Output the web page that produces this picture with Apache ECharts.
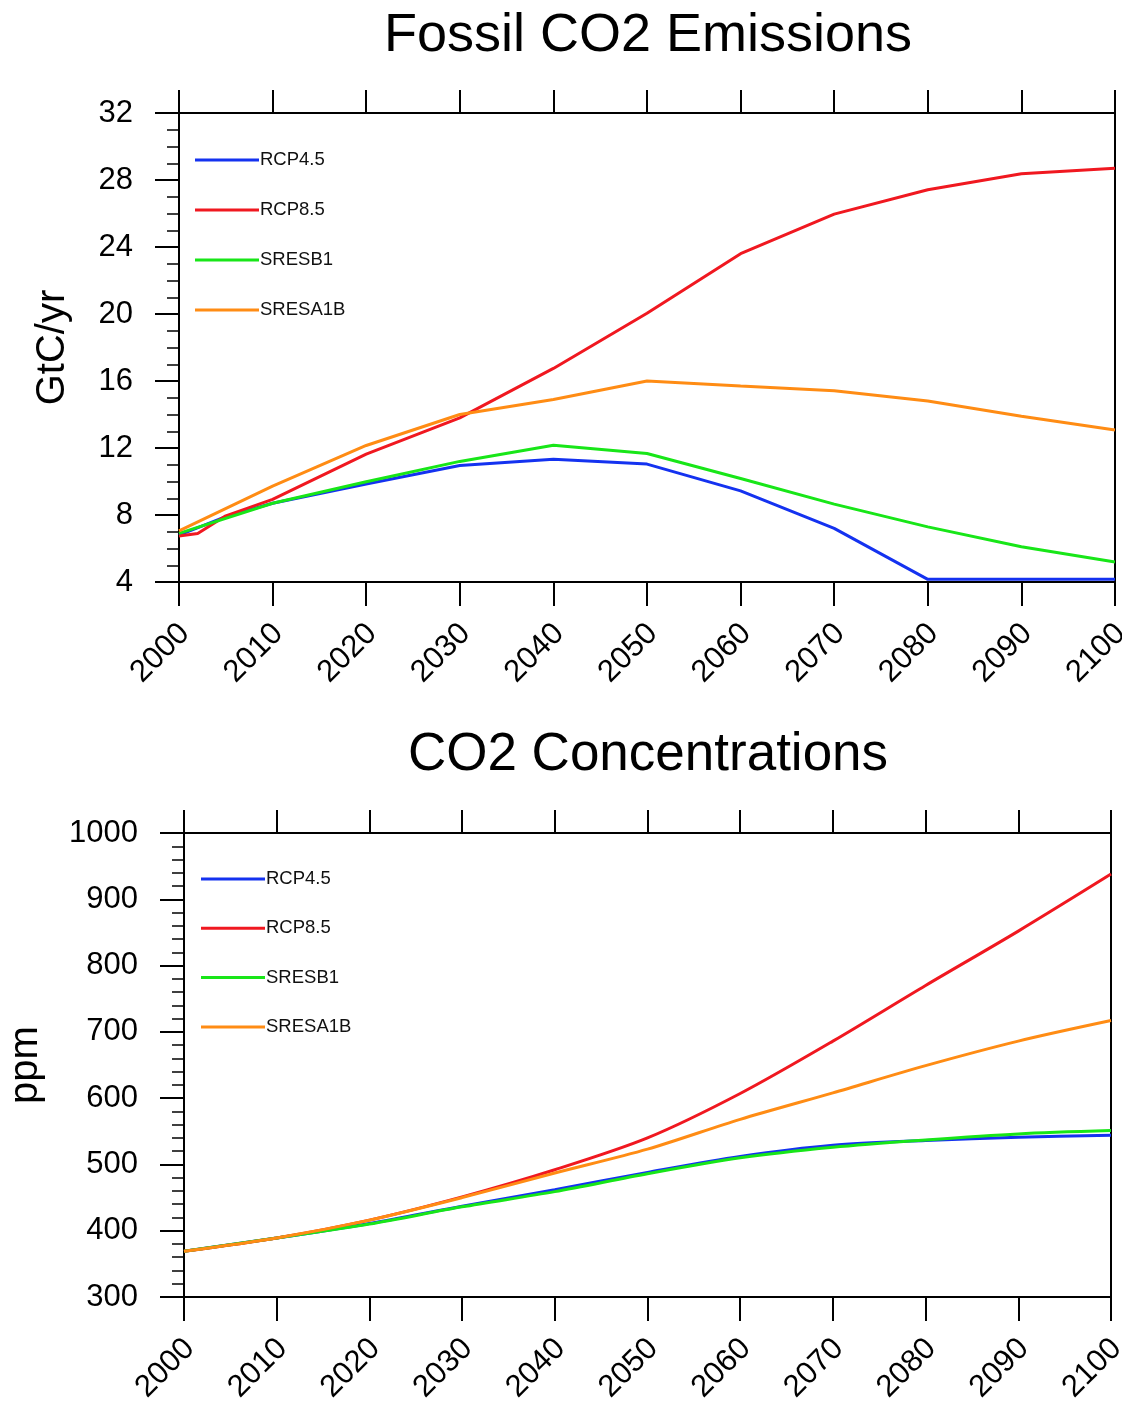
<!DOCTYPE html>
<html>
<head>
<meta charset="utf-8">
<title>CO2 Emissions and Concentrations</title>
<script src="https://cdn.jsdelivr.net/npm/echarts@6/dist/echarts.min.js"></script>
<style>
  html, body { margin: 0; padding: 0; background: #ffffff; overflow: hidden; }
  #chart { width: 1122px; height: 1403px; }
</style>
</head>
<body>
<div id="chart"></div>
<script>
// ---- Fossil CO2 emissions (GtC/yr) ----
const rcp45EmisYears = [2000, 2005, 2010, 2020, 2030, 2040, 2050, 2060, 2070, 2080, 2090, 2100];
const rcp45Emis      = [6.8, 7.9, 8.7, 9.85, 10.95, 11.33, 11.04, 9.44, 7.2, 4.16, 4.16, 4.16];

const rcp85EmisYears = [2000, 2002, 2005, 2010, 2020, 2030, 2040, 2050, 2060, 2070, 2080, 2090, 2100];
const rcp85Emis      = [6.75, 6.9, 7.95, 8.93, 11.63, 13.8, 16.75, 20.04, 23.6, 25.96, 27.42, 28.37, 28.7];

const sresEmisYears  = [2000, 2010, 2020, 2030, 2040, 2050, 2060, 2070, 2080, 2090, 2100];
const sresb1Emis     = [6.9, 8.7, 9.98, 11.2, 12.17, 11.67, 10.18, 8.65, 7.29, 6.1, 5.2];
const sresa1bEmis    = [7.05, 9.73, 12.15, 14.0, 14.9, 16.0, 15.7, 15.42, 14.8, 13.9, 13.07];

// ---- CO2 concentrations (ppm) ----
const concYears      = [2000, 2010, 2020, 2030, 2040, 2050, 2060, 2070, 2080, 2090, 2100];
const rcp45Conc      = [369, 389, 411, 437, 462, 488, 512, 529, 536, 541, 544];
const rcp85Conc      = [369, 389, 416, 451, 492, 540, 607, 686, 770, 852, 938];
const sresb1Conc     = [369, 389, 410, 436, 459, 486, 510, 526, 537, 546, 551];
const sresa1bConc    = [369, 389, 416, 450, 487, 523, 568, 608, 649, 686, 717];

const scenarioNames  = ['RCP4.5', 'RCP8.5', 'SRESB1', 'SRESA1B'];
const scenarioColors = ['#1432f0', '#f01820', '#18e618', '#ff8c14'];

const FONT = '"Liberation Sans", Arial, Helvetica, sans-serif';

function pairs(xs, ys) { return xs.map((x, i) => [x, ys[i]]); }

function xAxes(gridIndex) {
  return [
    {
      type: 'value', gridIndex, position: 'bottom',
      min: 2000, max: 2100, interval: 10,
      axisLine: { show: true, lineStyle: { color: '#000', width: 2 } },
      axisTick: { show: true, inside: false, length: 24, lineStyle: { color: '#000', width: 2 } },
      axisLabel: { rotate: 45, margin: 41, fontSize: 31, lineHeight: 16, verticalAlign: 'top',
                   color: '#000', fontFamily: FONT, hideOverlap: false, formatter: v => String(v) },
      splitLine: { show: false }
    },
    {
      type: 'value', gridIndex, position: 'top',
      min: 2000, max: 2100, interval: 10,
      axisLine: { show: true, lineStyle: { color: '#000', width: 2 } },
      axisTick: { show: true, inside: false, length: 23, lineStyle: { color: '#000', width: 2 } },
      axisLabel: { show: false },
      splitLine: { show: false }
    }
  ];
}

function yAxis(gridIndex, min, max, interval, minorSplit, name, nameGap) {
  return {
    type: 'value', gridIndex, position: 'left',
    min, max, interval,
    name, nameLocation: 'middle', nameGap,
    nameTextStyle: { fontSize: 40, color: '#000', fontFamily: FONT },
    axisLine: { show: true, lineStyle: { color: '#000', width: 2 } },
    axisTick: { show: true, inside: false, length: 24, lineStyle: { color: '#000', width: 2 } },
    minorTick: { show: true, splitNumber: minorSplit, length: 12, lineStyle: { color: '#000', width: 1.5 } },
    axisLabel: { margin: 46, fontSize: 31, color: '#000', fontFamily: FONT, formatter: v => String(v) },
    splitLine: { show: false },
    minorSplitLine: { show: false }
  };
}

function legend(top, left, gap) {
  return {
    orient: 'vertical', left, top, padding: 0,
    icon: 'rect', itemWidth: 64, itemHeight: 3, itemGap: gap,
    data: scenarioNames,
    textStyle: { fontSize: 18.5, lineHeight: 20, color: '#111', fontFamily: FONT, padding: [0, 0, 0, -4] },
    selectedMode: false
  };
}

const emisData = [
  pairs(rcp45EmisYears, rcp45Emis),
  pairs(rcp85EmisYears, rcp85Emis),
  pairs(sresEmisYears, sresb1Emis),
  pairs(sresEmisYears, sresa1bEmis)
];
const concData = [
  pairs(concYears, rcp45Conc),
  pairs(concYears, rcp85Conc),
  pairs(concYears, sresb1Conc),
  pairs(concYears, sresa1bConc)
];

const series = [];
emisData.forEach((d, i) => series.push({
  name: scenarioNames[i], type: 'line', xAxisIndex: 0, yAxisIndex: 0,
  data: d, showSymbol: false, symbol: 'none',
  lineStyle: { color: scenarioColors[i], width: 3 }, itemStyle: { color: scenarioColors[i] },
  z: 3 + i
}));
concData.forEach((d, i) => series.push({
  name: scenarioNames[i], type: 'line', xAxisIndex: 2, yAxisIndex: 1,
  data: d, showSymbol: false, symbol: 'none',
  smooth: 0.3,
  lineStyle: { color: scenarioColors[i], width: 3 }, itemStyle: { color: scenarioColors[i] },
  z: 3 + i
}));

const chart = echarts.init(document.getElementById('chart'), null, { renderer: 'canvas' });
chart.setOption({
  backgroundColor: '#ffffff',
  animation: false,
  color: scenarioColors,
  title: [
    { text: 'Fossil CO2 Emissions', left: 643, top: 4, textAlign: 'center',
      textStyle: { fontSize: 54, fontWeight: 'normal', color: '#000', fontFamily: FONT } },
    { text: 'CO2 Concentrations', left: 643, top: 724, textAlign: 'center',
      textStyle: { fontSize: 53, fontWeight: 'normal', color: '#000', fontFamily: FONT } }
  ],
  legend: [legend(150, 195, 30), legend(869, 201, 29.3)],
  grid: [
    { left: 179, top: 113, width: 936, height: 469, containLabel: false, outerBoundsMode: 'none',
      show: true, borderColor: '#000', borderWidth: 2, backgroundColor: 'transparent' },
    { left: 184, top: 833, width: 927, height: 464, containLabel: false, outerBoundsMode: 'none',
      show: true, borderColor: '#000', borderWidth: 2, backgroundColor: 'transparent' }
  ],
  xAxis: [...xAxes(0), ...xAxes(1)],
  yAxis: [
    yAxis(0, 4, 32, 4, 4, 'GtC/yr', 106),
    yAxis(1, 300, 1000, 100, 5, 'ppm', 138)
  ],
  series
});
</script>
</body>
</html>
